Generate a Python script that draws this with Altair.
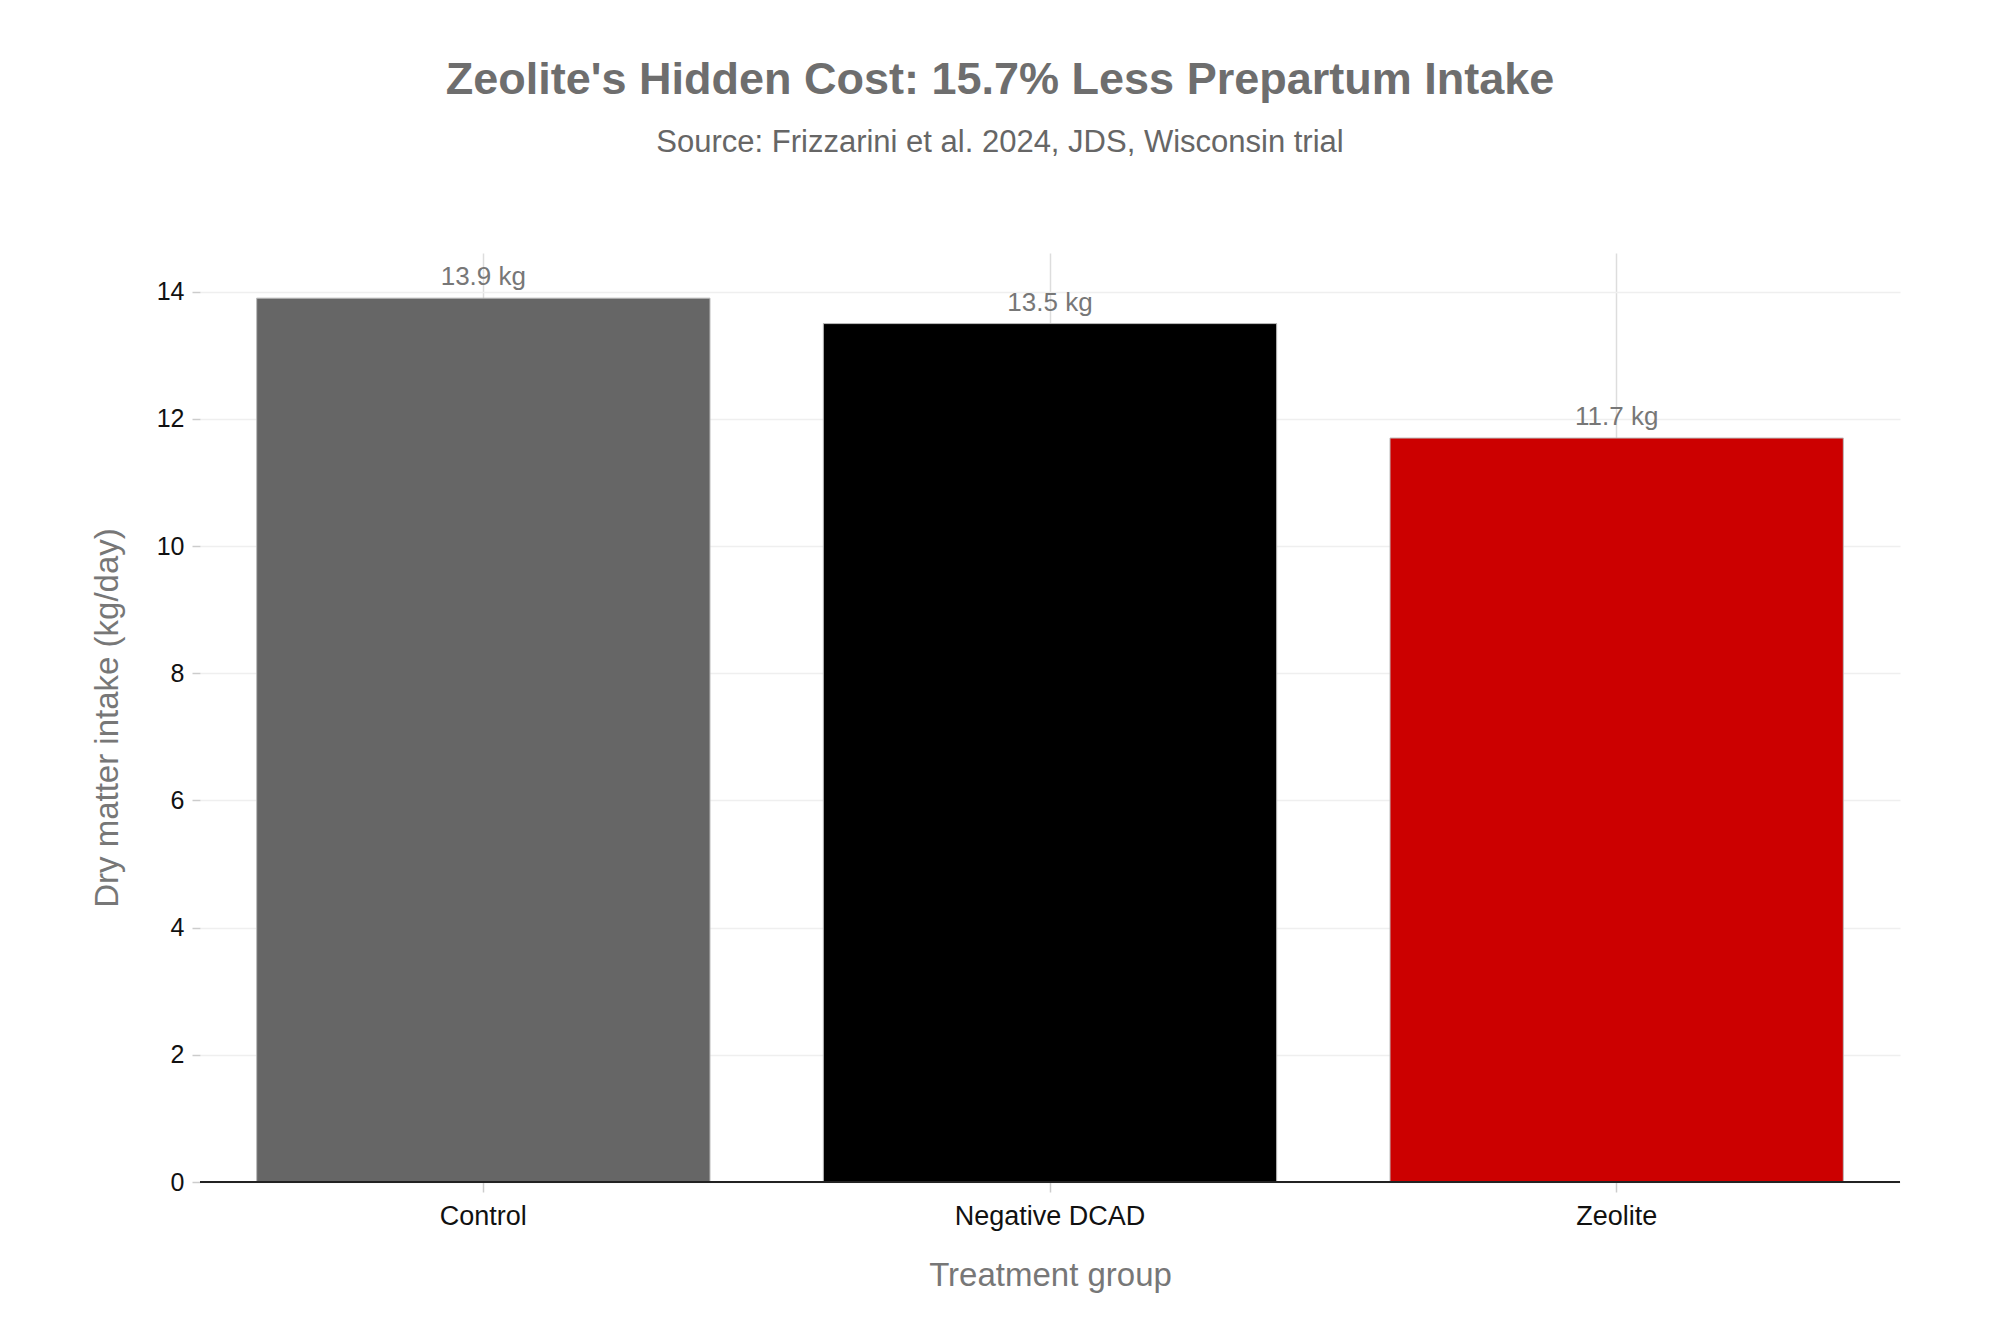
import altair as alt
import pandas as pd

categories = ["Control", "Negative DCAD", "Zeolite"]
values = [13.9, 13.5, 11.7]
labels = ["13.9 kg", "13.5 kg", "11.7 kg"]
colors = ["#666666", "#000000", "#CC0000"]
y_ticks = [0, 2, 4, 6, 8, 10, 12, 14]

df = pd.DataFrame({"group": categories, "dmi": values, "label": labels})

FONT = "Liberation Sans"
W, H = 1700, 929

x_enc = alt.X(
    "group:N",
    sort=categories,
    scale=alt.Scale(paddingInner=0.2, paddingOuter=0.1),
    axis=alt.Axis(
        title="Treatment group",
        labelAngle=0,
        labelLimit=500,
        domain=False,
        grid=True,
        gridColor="#dddddd",
        gridWidth=1.5,
        ticks=True,
        tickColor="#cccccc",
        tickSize=10,
        tickWidth=1.5,
        labelPadding=11,
        labelFontSize=27,
        labelColor="#111111",
        labelFont=FONT,
        titleFont=FONT,
        titleFontSize=33,
        titleFontWeight="normal",
        titleColor="#777777",
        titlePadding=30,
    ),
)

y_enc = alt.Y(
    "dmi:Q",
    scale=alt.Scale(domain=[0, 14.61], nice=False),
    axis=alt.Axis(
        title="Dry matter intake (kg/day)",
        values=y_ticks,
        format="d",
        domain=False,
        grid=True,
        gridColor="#efefef",
        gridWidth=1.5,
        ticks=True,
        tickColor="#cccccc",
        tickSize=8,
        tickWidth=1.5,
        labelPadding=8,
        labelFontSize=25,
        labelColor="#111111",
        labelFont=FONT,
        titleFont=FONT,
        titleFontSize=33,
        titleFontWeight="normal",
        titleColor="#777777",
        titlePadding=32,
    ),
)

bars = alt.Chart(df).mark_bar(stroke="#bbbbbb", strokeWidth=1).encode(
    x=x_enc,
    y=y_enc,
    color=alt.Color("group:N", scale=alt.Scale(domain=categories, range=colors), legend=None),
)

text = alt.Chart(df).mark_text(
    baseline="alphabetic", dy=-13, fontSize=26, font=FONT, color="#777777"
).encode(
    x=alt.X("group:N", sort=categories),
    y=alt.Y("dmi:Q"),
    text="label:N",
)

zero = alt.Chart(df).mark_rule(color="#222222", strokeWidth=2).encode(
    y=alt.datum(0),
    x=alt.value(0),
    x2=alt.value(W),
)

chart = alt.layer(bars, zero, text).properties(
    width=W,
    height=H,
    padding={"left": 192, "top": 245, "right": 92, "bottom": 143},
    autosize=alt.AutoSizeParams(type="none"),
    background="white",
    title=alt.TitleParams(
        text="Zeolite's Hidden Cost: 15.7% Less Prepartum Intake",
        subtitle="Source: Frizzarini et al. 2024, JDS, Wisconsin trial",
        anchor="middle",
        frame="group",
        dx=-50,
        offset=95,
        font=FONT,
        fontSize=45,
        fontWeight="bold",
        color="#6e6e6e",
        subtitleFont=FONT,
        subtitleFontSize=31,
        subtitleColor="#666666",
        subtitlePadding=25,
    ),
).configure_view(strokeWidth=0, stroke=None)

chart.save("out.html", embed_options={"renderer": "svg", "actions": False})
